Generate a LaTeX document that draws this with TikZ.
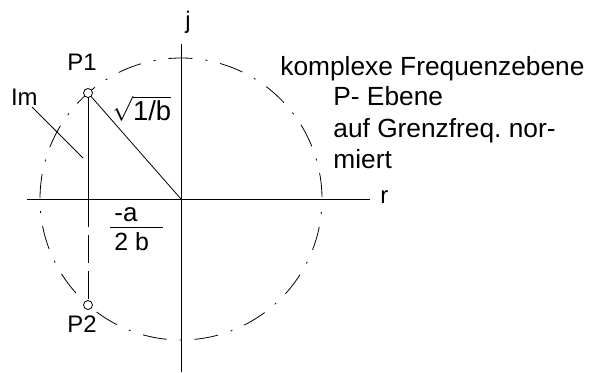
\documentclass[tikz,border=0pt]{standalone}
\usepackage{fontspec}
\setmainfont{Liberation Sans}
\usepackage{amsmath}
\frenchspacing
\begin{document}
\begin{tikzpicture}[x=1bp, y=-1bp, line width=0.8bp,
    every node/.style={font=\fontsize{24}{28}\selectfont, inner sep=0pt},
    big/.style={font=\fontsize{26.4}{31}\selectfont},
    locus/.style={dash pattern=on 24bp off 13bp on 2bp off 13bp, dash phase=24bp},
    conj/.style={dash pattern=on 28bp off 8bp},
    pole/.style={draw, fill=white, circle, minimum size=9bp, inner sep=0pt}]
  \useasboundingbox (0,0) rectangle (589,372);
  % axes
  \coordinate (O) at (181,199);
  \coordinate (Xl) at (27,199);
  \coordinate (Xr) at (370,199);
  \coordinate (Yt) at (181,44);
  \coordinate (Yb) at (181,372);
  \draw (Xl) -- (Xr);
  \draw (Yt) -- (Yb);
  \node[anchor=base] (j) at (188,28) {j};
  \node[anchor=base west] (r) at (380,203) {r};
  % pole circle
  \draw[locus] (O) circle[radius=141];
  \coordinate (P1) at (88,93);
  \coordinate (P2) at (88,305);
  \coordinate (F) at (88,199);
  \draw (P1) -- (F);
  \draw[conj] (F) -- (P2);
  \draw (P1) -- (O);
  \node[pole] (p1) at (P1) {};
  \node[pole] (p2) at (P2) {};
  \node[anchor=base west] (l1) at (67,70) {P1};
  \node[anchor=base west] (l2) at (67,332) {P2};
  % labels
  \node[anchor=base east] (im) at (38,105) {Im};
  \coordinate (imend) at (83,158);
  \draw (32,107) -- (imend);
  \node[font=\fontsize{27.5}{32}\selectfont, anchor=base west] (rad) at (112,120) {$\sqrt{\text{1/b}}$};
  \node[font=\fontsize{26}{31}\selectfont, anchor=base west] (num) at (114,221) {-a};
  \node[font=\fontsize{25}{30}\selectfont, anchor=base west] (den) at (114,250) {2 b};
  \coordinate (barl) at (110,227);
  \coordinate (barr) at (163,227);
  \draw (barl) -- (barr);
  % text
  \node[big, anchor=base west] (t1) at (280,75) {komplexe Frequenzebene};
  \node[big, anchor=base west] (t2) at (333,105) {P- Ebene};
  \node[big, anchor=base west] (t3) at (333,137) {auf Grenzfreq. nor-};
  \node[big, anchor=base west] (t4) at (333,168) {miert};
\end{tikzpicture}
\end{document}
